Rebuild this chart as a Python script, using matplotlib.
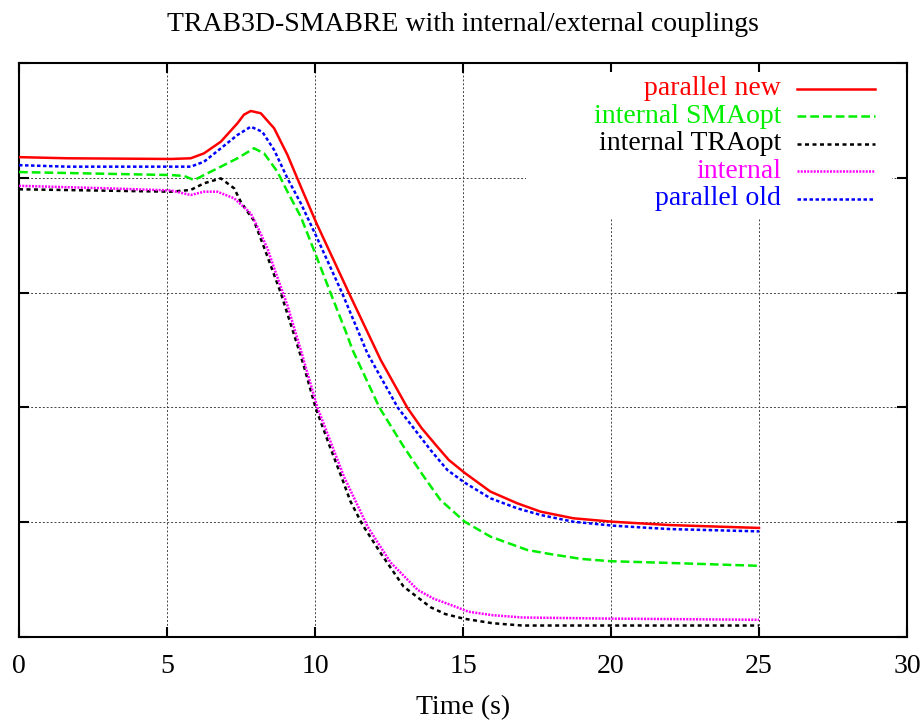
import numpy as np
import matplotlib.pyplot as plt
from matplotlib.lines import Line2D

plt.rcParams['font.family'] = ['Liberation Serif', 'DejaVu Serif']

# values (y axis has no labels, so y is in grid units 0..5)
x_par_new = [0, 1.65, 5.13, 5.80, 6.25, 6.82, 7.38, 7.6, 7.83, 8.17, 8.62, 9.07, 9.52, 10.05, 11.15,
             12.22, 13.12, 13.6, 14.13, 14.52, 15.06, 15.93, 16.83, 17.62, 18.73, 20.06, 20.99, 22, 25]
y_par_new = [4.18, 4.17, 4.164, 4.17, 4.213, 4.315, 4.475, 4.55, 4.582, 4.562, 4.431, 4.199, 3.923, 3.604, 2.994,
             2.413, 1.997, 1.82, 1.658, 1.542, 1.429, 1.266, 1.165, 1.092, 1.034, 1.004, 0.99, 0.975, 0.95]

x_sma = [0, 5.13, 5.58, 5.92, 6.25, 6.82, 7.38, 7.94, 8.28, 8.73, 9.07, 9.52, 10.05, 10.53, 11.04,
         11.27, 12.18, 12.99, 13.68, 14.24, 15.06, 15.93, 17.17, 18, 19, 20, 22, 25]
y_sma = [4.05, 4.024, 4.016, 3.98, 4.024, 4.097, 4.17, 4.257, 4.213, 4.053, 3.879, 3.661, 3.313, 2.994, 2.66,
         2.50, 1.997, 1.66, 1.396, 1.193, 1.004, 0.874, 0.758, 0.72, 0.68, 0.66, 0.645, 0.62]

x_tra = [0, 5.13, 5.80, 6.25, 6.82, 7.27, 7.49, 7.76, 7.93, 8.27, 8.84, 9.42, 9.63, 10.02, 10.5,
         10.9, 11.2, 11.6, 12.22, 12.99, 13.90, 14.4, 15.02, 16, 17, 20, 25]
y_tra = [3.90, 3.879, 3.894, 3.952, 3.995, 3.908, 3.792, 3.69, 3.63, 3.40, 3.00, 2.53, 2.354, 1.997, 1.66,
         1.39, 1.18, 0.98, 0.73, 0.44, 0.26, 0.20, 0.16, 0.12, 0.10, 0.10, 0.10]

x_int = [0, 2.77, 5.13, 5.80, 6.25, 6.70, 7.27, 7.83, 8.10, 8.40, 8.61, 9.08, 9.52, 10.08, 10.98,
         11.78, 12.55, 13.47, 14.0, 14.58, 15.19, 16, 17, 20, 25]
y_int = [3.93, 3.91, 3.89, 3.85, 3.879, 3.879, 3.821, 3.69, 3.55, 3.38, 3.22, 2.88, 2.50, 2.00, 1.396,
         0.96, 0.65, 0.41, 0.335, 0.28, 0.22, 0.19, 0.17, 0.16, 0.15]

x_par_old = [0, 1.65, 5.13, 5.80, 6.25, 6.82, 7.38, 7.83, 8.22, 8.62, 9.07, 9.52, 10.05, 10.92,
             11.77, 12.80, 13.90, 14.47, 15.06, 15.93, 16.83, 17.62, 18.73, 20.06, 20.99, 22, 25]
y_par_old = [4.11, 4.097, 4.097, 4.097, 4.140, 4.257, 4.373, 4.445, 4.401, 4.242, 3.995, 3.778, 3.487, 2.994,
             2.471, 1.997, 1.63, 1.455, 1.344, 1.208, 1.121, 1.063, 1.004, 0.97, 0.955, 0.94, 0.92]

labels = ['parallel new', 'internal SMAopt', 'internal TRAopt', 'internal', 'parallel old']
colors = ['#ff0000', '#00ee00', '#000000', '#ff00ff', '#0000ff']
dashes = ['-', (0, (3.5, 1.6)), (0, (1.6, 1.4)), (0, (0.8, 0.5)), (0, (1.4, 1.0))]

fig = plt.figure(figsize=(9.24, 7.22), dpi=100)
ax = fig.add_axes([19/924, 1 - 637/722, 888/924, 574/722])

series = [(x_par_new, y_par_new), (x_sma, y_sma), (x_tra, y_tra), (x_int, y_int), (x_par_old, y_par_old)]
for (xs, ys), c, ls in zip(series, colors, dashes):
    ax.plot(xs, ys, color=c, ls=ls, lw=1.8, zorder=3)

ax.set_xlim(0, 30)
ax.set_ylim(0, 5)
ax.set_xticks(np.arange(0, 31, 5))
ax.set_yticks(np.arange(0, 6, 1))
ax.set_yticklabels([])
ax.tick_params(direction='in', length=7, width=1.5, top=True, right=True, labelsize=20, pad=12)
ax.grid(True, color='#444444', lw=0.7, ls=(0, (2, 2)), zorder=0)
for s in ax.spines.values():
    s.set_linewidth(1.5)

ax.set_xlabel('Time (s)', fontsize=20, labelpad=12)
ax.set_title('TRAB3D-SMABRE with internal/external couplings', fontsize=20, pad=23)

# gnuplot style key: right-aligned text, sample line on the right, white box
ax.add_patch(plt.Rectangle((0.571, 0.73), 0.412, 0.255, transform=ax.transAxes,
                           facecolor='white', edgecolor='none', zorder=2))
for i, (lab, c, ls) in enumerate(zip(labels, colors, dashes)):
    yy = 0.955 - i * 0.0478
    ax.text(0.858, yy, lab, color=c, fontsize=20, ha='right', va='center',
            transform=ax.transAxes, zorder=4)
    ax.add_line(Line2D([0.876, 0.964], [yy, yy], color=c, ls=ls, lw=1.8,
                       transform=ax.transAxes, zorder=4))

fig.savefig('out.png', dpi=100)
